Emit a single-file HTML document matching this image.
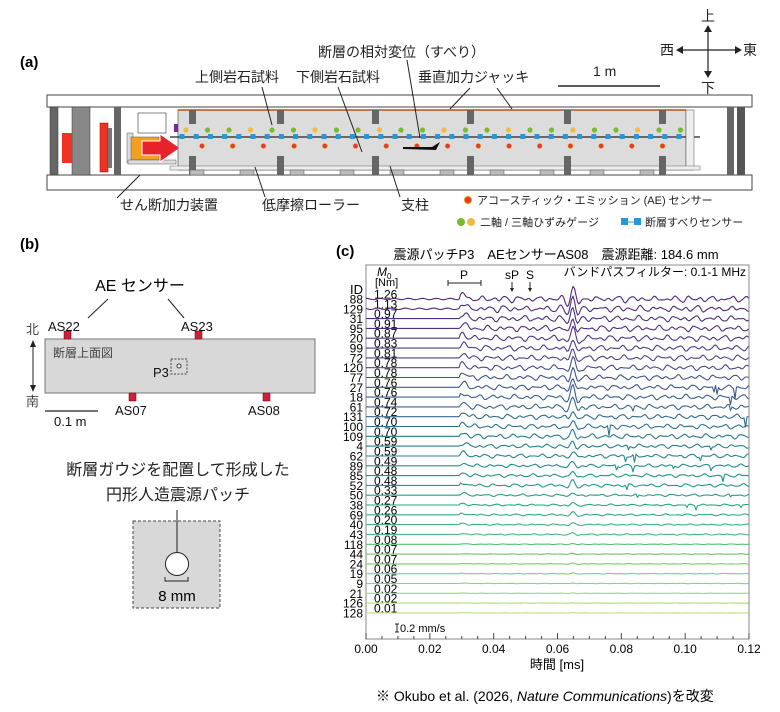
<!DOCTYPE html>
<html><head><meta charset="utf-8">
<style>
html,body{margin:0;padding:0;background:#fff;}
svg{display:block;font-family:"Liberation Sans","Noto Sans CJK JP",sans-serif;}
</style></head>
<body>
<svg id="s" width="780" height="712" viewBox="0 0 780 712" xmlns="http://www.w3.org/2000/svg">
<text x="20" y="67" font-size="15" font-weight="bold">(a)</text>
<g font-size="14" fill="#222">
<text x="195" y="82">上側岩石試料</text>
<text x="296" y="82">下側岩石試料</text>
<text x="418" y="82">垂直加力ジャッキ</text>
<text x="318" y="57">断層の相対変位（すべり）</text>
<text x="593" y="76">1 m</text>
</g>
<line x1="558" y1="86" x2="660" y2="86" stroke="#222" stroke-width="1.5"/>
<g stroke="#222" stroke-width="1.2" fill="#222">
<line x1="708" y1="29" x2="708" y2="74"/><line x1="680" y1="50" x2="738" y2="50"/>
<path d="M704,32 L708,25 L712,32Z M704,71 L708,78 L712,71Z M683,46 L676,50 L683,54Z M735,46 L742,50 L735,54Z" stroke="none"/>
</g>
<g font-size="14" fill="#222">
<text x="701" y="21">上</text><text x="701" y="93">下</text>
<text x="660" y="55">西</text><text x="743" y="55">東</text>
</g>
<rect x="47" y="95" width="705" height="12" fill="#fff" stroke="#444"/>
<rect x="47" y="175" width="705" height="15" fill="#fff" stroke="#444"/>
<rect x="50" y="107" width="8" height="68" fill="#666" stroke="#333" stroke-width=".5"/>
<rect x="72" y="107" width="18" height="68" fill="#888" stroke="#333" stroke-width=".5"/>
<rect x="62" y="133" width="10" height="30" fill="#e32"/>
<rect x="100" y="123" width="8" height="49" fill="#e32" stroke="#900" stroke-width=".5"/>
<rect x="108" y="128" width="4" height="40" fill="#777"/>
<rect x="114" y="107" width="7" height="68" fill="#666"/>
<rect x="127" y="133" width="6" height="30" fill="#ddd" stroke="#555" stroke-width=".5"/>
<rect x="131" y="137" width="28" height="23" fill="#f3a020" stroke="#555" stroke-width=".5"/>
<rect x="128" y="160" width="48" height="4" fill="#ddd" stroke="#555" stroke-width=".5"/>
<path d="M142,141 L160,141 L160,134 L180,148 L160,162 L160,155 L142,155Z" fill="#e8222a" stroke="#fff" stroke-width="1"/>
<rect x="138" y="113" width="28" height="20" fill="none" stroke="#333" stroke-width=".6"/>
<rect x="174" y="124" width="9" height="8" fill="#7a2a9a"/>
<rect x="685" y="124" width="9" height="8" fill="#7a2a9a"/>
<rect x="178" y="110" width="508" height="60" fill="#dcdcdc" stroke="#555" stroke-width=".7"/>
<line x1="178" y1="110" x2="686" y2="110" stroke="#b5521e" stroke-width="1.5"/>
<line x1="170" y1="137" x2="700" y2="137" stroke="#222" stroke-width="1.2"/>
<rect x="686" y="110" width="8" height="60" fill="#eee" stroke="#555" stroke-width=".5"/>
<rect x="727" y="107" width="7" height="68" fill="#666"/>
<rect x="737" y="107" width="8" height="68" fill="#555"/>
<rect x="170" y="166" width="530" height="4" fill="#eee" stroke="#666" stroke-width=".5"/>
<g id="app"></g>
<g stroke="#222" stroke-width="1" fill="none">
<line x1="140" y1="175" x2="117" y2="198"/>
<line x1="255" y1="167" x2="265" y2="197"/>
<line x1="390" y1="166" x2="400" y2="197"/>
<line x1="262" y1="87" x2="272" y2="125"/>
<line x1="338" y1="87" x2="362" y2="152"/>
<line x1="470" y1="88" x2="450" y2="109"/>
<line x1="497" y1="88" x2="512" y2="109"/>
<line x1="407" y1="60" x2="420" y2="138"/>
</g>
<path d="M403,147 L432,147 L440,142 L436,150 L403,149Z" fill="#111"/>
<g font-size="14" fill="#222">
<text x="120" y="210">せん断加力装置</text>
<text x="262" y="210">低摩擦ローラー</text>
<text x="401" y="210">支柱</text>
</g>
<g font-size="11" fill="#222">
<circle cx="468" cy="200" r="3.5" fill="#e33" stroke="#d90" stroke-width="1"/>
<text x="477" y="204">アコースティック・エミッション (AE) センサー</text>
<circle cx="461" cy="222" r="4" fill="#7b3"/><circle cx="471" cy="222" r="4" fill="#eb4"/>
<text x="480" y="226">二軸 / 三軸ひずみゲージ</text>
<rect x="621" y="218" width="7" height="7" fill="#29d"/><line x1="628" y1="222" x2="634" y2="222" stroke="#29d"/><rect x="634" y="218" width="7" height="7" fill="#29d"/>
<text x="645" y="226">断層すべりセンサー</text>
</g>
<text x="20" y="249" font-size="15" font-weight="bold">(b)</text>
<text x="140" y="291" font-size="16" text-anchor="middle">AE センサー</text>
<line x1="108" y1="299" x2="88" y2="318" stroke="#222"/>
<line x1="168" y1="299" x2="184" y2="318" stroke="#222"/>
<rect x="45" y="339" width="270" height="54" fill="#d8d8d8" stroke="#777"/>
<g fill="#d1203a" stroke="#600" stroke-width=".5">
<rect x="64" y="331" width="7" height="8"/><rect x="195" y="331" width="7" height="8"/>
<rect x="129" y="393" width="7" height="8"/><rect x="263" y="393" width="7" height="8"/>
</g>
<g font-size="13" fill="#111">
<text x="48" y="331">AS22</text><text x="181" y="331">AS23</text>
<text x="115" y="415">AS07</text><text x="248" y="415">AS08</text>
<text x="153" y="377">P3</text>
<text x="54" y="426">0.1 m</text>
</g>
<text x="53" y="357" font-size="12" fill="#444">断層上面図</text>
<text x="26" y="334" font-size="13" fill="#444">北</text>
<text x="26" y="406" font-size="13" fill="#444">南</text>
<line x1="33" y1="344" x2="33" y2="388" stroke="#222"/>
<path d="M30,347 L33,340 L36,347Z M30,385 L33,392 L36,385Z" fill="#222"/>
<rect x="171" y="359" width="16" height="15" fill="none" stroke="#444" stroke-dasharray="2,1.5"/>
<circle cx="179" cy="366" r="2" fill="#fff" stroke="#333"/>
<line x1="45" y1="411" x2="98" y2="411" stroke="#222" stroke-width="1.2"/>
<g font-size="16" fill="#222" text-anchor="middle">
<text x="178" y="475">断層ガウジを配置して形成した</text>
<text x="178" y="500">円形人造震源パッチ</text>
</g>
<rect x="133" y="521" width="87" height="87" fill="#d8d8d8" stroke="#444" stroke-dasharray="3,2"/>
<line x1="177" y1="510" x2="177" y2="553" stroke="#222"/>
<circle cx="177" cy="564" r="11.5" fill="#fff" stroke="#222"/>
<path d="M165,577 V581 H188 V577" fill="none" stroke="#222"/>
<text x="177" y="601" font-size="15" text-anchor="middle">8 mm</text>
<text x="336" y="256" font-size="15" font-weight="bold">(c)</text>
<text x="556" y="259" font-size="13" text-anchor="middle">震源パッチP3　AEセンサーAS08　震源距離: 184.6 mm</text>
<rect x="366" y="265" width="383" height="374" fill="none" stroke="#888"/>
<text x="746" y="276" font-size="12" text-anchor="end">バンドパスフィルター: 0.1-1 MHz</text>
<text x="377" y="276" font-size="12" font-style="italic">M</text><text x="387" y="279" font-size="8">0</text>
<text x="375" y="286" font-size="11">[Nm]</text>
<text x="363" y="294" font-size="13" text-anchor="end">ID</text>
<text x="464" y="279" font-size="12" text-anchor="middle">P</text>
<path d="M448,280 V286 M448,283 H481 M481,280 V286" stroke="#222" fill="none"/>
<text x="512" y="279" font-size="12" text-anchor="middle">sP</text>
<text x="530" y="279" font-size="12" text-anchor="middle">S</text>
<path d="M512,282 V291 M530,282 V291" stroke="#222"/>
<path d="M510,288 L512,292 L514,288Z M528,288 L530,292 L532,288Z" fill="#222"/>
<g id="traces"></g>
<g id="axis" font-size="12"></g>
<path d="M397,624 V632 M395,624 H399 M395,632 H399" stroke="#222"/>
<text x="400" y="632" font-size="11">0.2 mm/s</text>
<text x="557" y="669" font-size="13" text-anchor="middle">時間 [ms]</text>
<text x="376" y="701" font-size="14">※  Okubo et al. (2026, <tspan font-style="italic">Nature Communications</tspan>)を改変</text>
</svg>
<script>
var NS="http://www.w3.org/2000/svg";
function el(t,a,p,txt){var e=document.createElementNS(NS,t);for(var k in a)e.setAttribute(k,a[k]);if(txt!==undefined)e.textContent=txt;p.appendChild(e);return e;}
var seed=7;function rnd(){seed=(seed*16807)%2147483647;return seed/2147483647;}
var app=document.getElementById('app');
[192,280,375,470,567,662].forEach(function(x){el('rect',{x:x-3,y:110,width:7,height:14,fill:'#666'},app);el('rect',{x:x-3,y:156,width:7,height:19,fill:'#666'},app);});
[190,240,290,340,390,440,490,540,590,640].forEach(function(x){el('rect',{x:x,y:170,width:14,height:5,fill:'#bbb',stroke:'#555','stroke-width':.5},app);});
for(var i=0;i<24;i++){var x=186+i*21.5;el('circle',{cx:x,cy:130,r:2.6,fill:(i%3==0?'#eb4':'#7b3')},app);}
for(var i=0;i<36;i++){var x=182+i*14.2;el('rect',{x:x-2.5,y:134,width:5,height:5,fill:'#29d'},app);}
for(var i=0;i<16;i++){var x=202+i*30.7;el('circle',{cx:x,cy:146,r:2.4,fill:'#e33',stroke:'#d90','stroke-width':.6},app);}
var ids=[88,129,31,95,20,99,72,120,77,27,18,61,131,100,109,4,62,89,85,52,50,38,69,40,43,118,44,24,19,9,21,126,128];
var m0=["1.26","1.13","0.97","0.91","0.87","0.83","0.81","0.78","0.78","0.76","0.76","0.74","0.72","0.70","0.70","0.59","0.59","0.49","0.48","0.48","0.33","0.27","0.26","0.20","0.19","0.08","0.07","0.07","0.06","0.05","0.02","0.02","0.01"];
var vir=[[80,40,120],[78,50,130],[70,75,140],[55,100,145],[42,122,142],[35,145,138],[45,168,128],[90,190,110],[140,210,100],[180,225,130]];
function col(f){var p=f*(vir.length-1),i=Math.floor(p),r=p-i;if(i>=vir.length-1)return'rgb('+vir[vir.length-1]+')';var a=vir[i],b=vir[i+1];return'rgb('+[0,1,2].map(function(k){return Math.round(a[k]+(b[k]-a[k])*r);}).join(',')+')';}
var tg=document.getElementById('traces');
for(var j=0;j<33;j++){
 var y0=299+j*9.81, m=parseFloat(m0[j]);
 el('text',{x:363,y:y0+4.5,'font-size':12,'text-anchor':'end'},tg,String(ids[j]));
 el('text',{x:374,y:y0-0.5,'font-size':12},tg,m0[j]);
 var amp=Math.min(1.1,m/0.8)*2.6+0.05;
 var ph=[rnd()*6,rnd()*6,rnd()*6];
 var pts=[];
 for(var x=366;x<=749;x+=1.5){
  var t=(x-366)/383*0.12, v=0;
  if(j<2) v+=Math.sin(x*0.45+ph[0])*0.7;
  if(t>0.0295){
   v+=amp*(Math.sin(x*0.55+ph[0])*0.55+Math.sin(x*0.33+ph[1])*0.45+Math.sin(x*0.95+ph[2])*0.2);
   var d=t-0.0305; v+=amp*1.5*Math.exp(-d*d/2e-6);
   var s=t-0.0648; v+=amp*(j<12?4.0:2.6)*Math.exp(-s*s/4e-6)*Math.cos(s*1500);
   if(j>8&&j<22&&t>0.075&&rnd()<0.012) v-=amp*3*(rnd()+0.5);
  }
  pts.push(x.toFixed(1)+','+(y0-v).toFixed(1));
 }
 el('polyline',{points:pts.join(' '),fill:'none',stroke:col(j/32),'stroke-width':1.1,'stroke-linejoin':'round'},tg);
}
var ax=document.getElementById('axis');
for(var k=0;k<=24;k++){var x=366+k*383/24;el('line',{x1:x,y1:639,x2:x,y2:k%4==0?633:636,stroke:'#444'},ax);}
for(var k=0;k<=6;k++){var x=366+k*383/6;el('text',{x:x,y:653,'text-anchor':'middle'},ax,(k*0.02).toFixed(2));}
</script>
</body></html>
